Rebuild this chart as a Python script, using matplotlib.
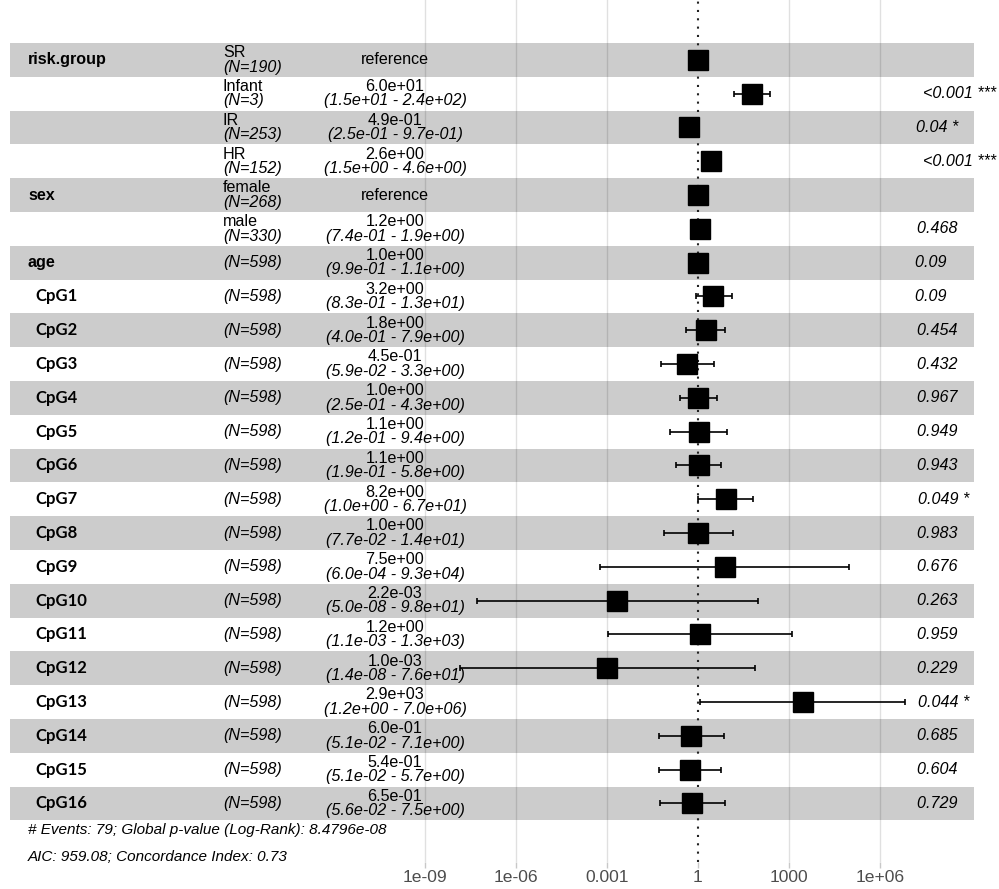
import numpy as np
import matplotlib
matplotlib.use("Agg")
import matplotlib.pyplot as plt
from matplotlib.transforms import offset_copy


# Cox model hazard ratios, one entry per row of the forest plot
var_names = ["risk.group", "", "", "", "sex", "", "age",
             "CpG1", "CpG2", "CpG3", "CpG4", "CpG5", "CpG6", "CpG7", "CpG8",
             "CpG9", "CpG10", "CpG11", "CpG12", "CpG13", "CpG14", "CpG15", "CpG16"]
levels = ["SR", "Infant", "IR", "HR", "female", "male"] + [""] * 17
n_obs = [190, 3, 253, 152, 268, 330] + [598] * 17
is_ref = [True, False, False, False, True] + [False] * 18

hr = [1.0, 6.0e+01, 4.9e-01, 2.6e+00, 1.0, 1.2e+00, 1.0e+00,
      3.2e+00, 1.8e+00, 4.5e-01, 1.0e+00, 1.1e+00, 1.1e+00, 8.2e+00, 1.0e+00,
      7.5e+00, 2.2e-03, 1.2e+00, 1.0e-03, 2.9e+03, 6.0e-01, 5.4e-01, 6.5e-01]
ci_low = [np.nan, 1.5e+01, 2.5e-01, 1.5e+00, np.nan, 7.4e-01, 9.9e-01,
          8.3e-01, 4.0e-01, 5.9e-02, 2.5e-01, 1.2e-01, 1.9e-01, 1.0e+00, 7.7e-02,
          6.0e-04, 5.0e-08, 1.1e-03, 1.4e-08, 1.2e+00, 5.1e-02, 5.1e-02, 5.6e-02]
ci_high = [np.nan, 2.4e+02, 9.7e-01, 4.6e+00, np.nan, 1.9e+00, 1.1e+00,
           1.3e+01, 7.9e+00, 3.3e+00, 4.3e+00, 9.4e+00, 5.8e+00, 6.7e+01, 1.4e+01,
           9.3e+04, 9.8e+01, 1.3e+03, 7.6e+01, 7.0e+06, 7.1e+00, 5.7e+00, 7.5e+00]
p_labels = ["", "<0.001 ***", "0.04 *", "<0.001 ***", "", "0.468 ", "0.09 ",
            "0.09 ", "0.454 ", "0.432 ", "0.967 ", "0.949 ", "0.943 ", "0.049 *", "0.983 ",
            "0.676 ", "0.263 ", "0.959 ", "0.229 ", "0.044 *", "0.685 ", "0.604 ", "0.729 "]

tick_vals = [1e-09, 1e-06, 1e-03, 1, 1e+03, 1e+06]
tick_text = ["1e-09", "1e-06", "0.001", "1", "1000", "1e+06"]

footer = ["# Events: 79; Global p-value (Log-Rank): 8.4796e-08",
          "AIC: 959.08; Concordance Index: 0.73"]

plt.rcParams['font.family'] = ['Liberation Sans', 'DejaVu Sans']
FS = 11.6

W, H = 999, 889
fig = plt.figure(figsize=(W / 100, H / 100), dpi=100)
panel_bottom = 862
ax = fig.add_axes([0, 1 - panel_bottom / H, 1, panel_bottom / H])

# layout in pixels: first row top at 43, row height 33.8, x=1 sits at 698
row_h = 33.8
top0 = 43
px_per_dec = 30.3
x_one = 698
ax.set_xscale('log')
ax.set_xlim(10 ** (-x_one / px_per_dec), 10 ** ((W - x_one) / px_per_dec))
ax.set_ylim((panel_bottom - top0) / row_h - 0.5, -top0 / row_h - 0.5)

n_rows = len(hr)
rows = np.arange(n_rows)

# alternating gray bands
for i in rows:
    if i % 2 == 0:
        ax.axhspan(i - 0.5, i + 0.5, xmin=10 / W, xmax=974 / W,
                   color='#cccccc', lw=0, zorder=1)

for t in tick_vals:
    if t != 1:
        ax.axvline(t, color='k', alpha=0.12, lw=1, zorder=1.5)
ax.axvline(1, color='#222222', lw=1.5, ls=(0, (1, 3)), zorder=2)

hr_a = np.array(hr)
lo_a = np.array(ci_low)
hi_a = np.array(ci_high)
has_ci = ~np.isnan(lo_a)
ax.errorbar(hr_a[has_ci], rows[has_ci],
            xerr=[hr_a[has_ci] - lo_a[has_ci], hi_a[has_ci] - hr_a[has_ci]],
            fmt='none', ecolor='black', elinewidth=1.2, capsize=2.2, capthick=1.2, zorder=3)
ax.plot(hr_a, rows, 's', color='black', ms=14, zorder=4)

# text columns, x in axes fraction, y in rows
tr = ax.get_yaxis_transform()
dy = 0.215
p_texts = []
for i in rows:
    name = var_names[i]
    if name.startswith("CpG"):
        ax.text(35 / W, i, name, transform=tr, ha='left', va='center',
                fontsize=FS + 0.4, fontweight='bold', family=['Lato', 'DejaVu Sans'])
    elif name:
        ax.text(28 / W, i, name, transform=tr, ha='left', va='center',
                fontsize=FS, fontweight='bold')

    n_lab = "(N=%d)" % n_obs[i]
    if levels[i]:
        ax.text(223 / W, i - dy, levels[i], transform=tr, ha='left', va='center', fontsize=FS)
        ax.text(223 / W, i + dy, n_lab, transform=tr, ha='left', va='center',
                fontsize=FS, style='italic')
    else:
        ax.text(223 / W, i, n_lab, transform=tr, ha='left', va='center',
                fontsize=FS, style='italic')

    if is_ref[i]:
        ax.text(395 / W, i, "reference", transform=tr, ha='center', va='center', fontsize=FS)
    else:
        ax.text(395 / W, i - dy, "%.1e" % hr[i], transform=tr, ha='center', va='center',
                fontsize=FS)
        ax.text(395 / W, i + dy, "(%.1e - %.1e)" % (ci_low[i], ci_high[i]), transform=tr,
                ha='center', va='center', fontsize=FS, style='italic')

    if p_labels[i]:
        p_texts.append(ax.text(908 / W, i, p_labels[i], transform=tr, ha='left',
                               va='center', fontsize=FS, style='italic'))

last = n_rows - 1
ax.text(28 / W, last + 0.78, footer[0], transform=tr, ha='left', va='center',
        fontsize=FS - 0.6, style='italic')
ax.text(28 / W, last + 1.58, footer[1], transform=tr, ha='left', va='center',
        fontsize=FS - 0.6, style='italic')

ax.set_xticks(tick_vals, tick_text)
ax.xaxis.set_minor_locator(matplotlib.ticker.NullLocator())
ax.set_yticks([])
ax.tick_params(axis='x', length=4, width=1, color='#c8c8c8', pad=2,
               labelsize=12.6, labelcolor='#4d4d4d')
for s in ax.spines.values():
    s.set_visible(False)
ax.patch.set_visible(False)

# p-values use a left offset of 0.2 x their own width
fig.canvas.draw()
rend = fig.canvas.get_renderer()
for t in p_texts:
    w = t.get_window_extent(rend).width
    t.set_transform(offset_copy(t.get_transform(), fig=fig, x=0.2 * w, units='dots'))

fig.savefig("out.png", dpi=100, facecolor='white')
